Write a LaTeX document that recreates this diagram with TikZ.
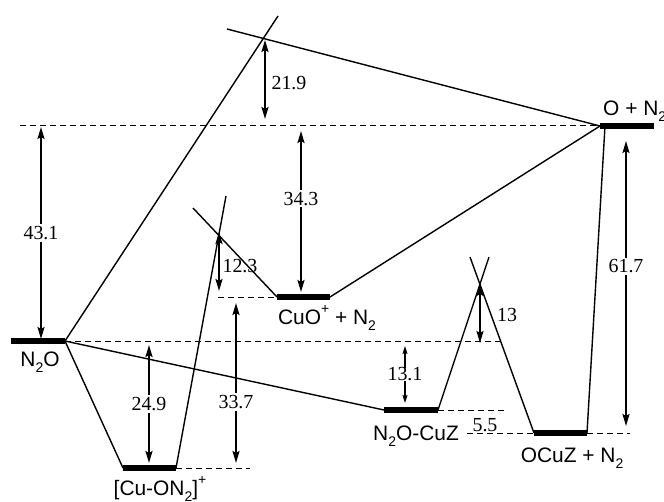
\documentclass[tikz,border=0pt]{standalone}
\usepackage{fontspec}
\setmainfont{Liberation Serif}
\newfontfamily\lblfont{Liberation Sans}
\usetikzlibrary{arrows.meta}
\newcommand{\lsub}[1]{\raisebox{-0.28em}{\fontsize{14}{14}\selectfont #1}}
\newcommand{\lsup}[1]{\raisebox{0.55em}{\fontsize{14}{14}\selectfont #1}}
\begin{document}
\begin{tikzpicture}[x=1bp,y=-1bp,
  level/.style={line width=5.5bp},
  path/.style={line width=1.4bp},
  guide/.style={line width=1bp,dash pattern=on 6bp off 4bp},
  dimarrow/.style={line width=1.9bp,{Stealth[length=12bp,width=7bp,inset=2bp]}-{Stealth[length=12bp,width=7bp,inset=2bp]}},
  smallarrow/.style={line width=1.4bp,{Stealth[length=8bp,width=5bp,inset=1.5bp]}-{Stealth[length=8bp,width=5bp,inset=1.5bp]}},
  num/.style={font=\fontsize{20}{22}\selectfont,inner sep=1bp},
  gapnum/.style={num,fill=white,inner sep=2bp},
  lbl/.style={font=\lblfont\fontsize{21}{23}\selectfont,inner sep=0pt}]
\useasboundingbox (0,0) rectangle (664,502);
% level coordinates
\coordinate (n2oL) at (11,341);   \coordinate (n2oR) at (65,341);
\coordinate (onL) at (600,126);   \coordinate (onR) at (654,126);
\coordinate (cuonL) at (123,468); \coordinate (cuonR) at (176,468);
\coordinate (cuoL) at (277,297);  \coordinate (cuoR) at (330,297);
\coordinate (czL) at (384,410);   \coordinate (czR) at (438,410);
\coordinate (ocL) at (534,433);   \coordinate (ocR) at (587,433);
% free ends of crossing lines
\coordinate (t1a) at (278,16);  \coordinate (t1b) at (227,29);
\coordinate (t2a) at (226,196); \coordinate (t2b) at (193,208);
\coordinate (t3a) at (489,257); \coordinate (t3b) at (470,257);
% dashed guides
\coordinate (g1) at (20,126);
\coordinate (g2) at (500,341);
\coordinate (g3) at (250,468);
\coordinate (g4) at (218,297);
\coordinate (g5) at (506,410);
\coordinate (g6) at (467,433);
\coordinate (g7) at (630,433);
\draw[guide] (g1) -- (onL);
\draw[guide] (n2oR) -- (g2);
\draw[guide] (cuonR) -- (g3);
\draw[guide] (g4) -- (cuoL);
\draw[guide] (czR) -- (g5);
\draw[guide] (g6) -- (ocL);
\draw[guide] (ocR) -- (g7);
% reaction paths
\draw[path] (n2oR) -- (t1a);
\draw[path] (t1b) -- (onL);
\draw[path] (n2oR) -- (cuonL);
\draw[path] (cuonR) -- (t2a);
\draw[path] (t2b) -- (cuoL);
\draw[path] (cuoR) -- (onL);
\draw[path] (n2oR) -- (czL);
\draw[path] (czR) -- (t3a);
\draw[path] (t3b) -- (ocL);
\draw[path] (ocR) -- (605,126);
% levels
\draw[level] (n2oL) -- (n2oR);
\draw[level] (onL) -- (onR);
\draw[level] (cuonL) -- (cuonR);
\draw[level] (cuoL) -- (cuoR);
\draw[level] (czL) -- (czR);
\draw[level] (ocL) -- (ocR);
% labels
\node[lbl] (ln2o) at (40,362) {N\lsub{2}O};
\node[lbl,anchor=base west] (lon) at (603,116) {O + N\lsub{2}};
\node[lbl] (lcuon) at (160,489) {[Cu-ON\lsub{2}]\lsup{+}};
\node[lbl] (lcuo) at (327,318) {CuO\lsup{+} + N\lsub{2}};
\node[lbl] (lcz) at (416,436) {N\lsub{2}O-CuZ};
\node[lbl] (loc) at (572,458) {OCuZ + N\lsub{2}};
% energy differences
\coordinate (a1t) at (265,40);  \coordinate (a1b) at (265,119);
\draw[dimarrow] (a1t) -- (a1b);
\node[num] (v1) at (289,83) {21.9};
\coordinate (a2t) at (41,127);  \coordinate (a2b) at (41,339);
\draw[dimarrow] (a2t) -- node[gapnum] (v2) {43.1} (a2b);
\coordinate (a3t) at (301,131); \coordinate (a3b) at (301,292);
\draw[dimarrow] (a3t) -- node[gapnum,pos=0.42] (v3) {34.3} (a3b);
\coordinate (a4t) at (219,232); \coordinate (a4b) at (219,291);
\draw[dimarrow] (a4t) -- (a4b);
\node[num] (v4) at (240,266) {12.3};
\coordinate (a5t) at (149,345); \coordinate (a5b) at (149,463);
\draw[dimarrow] (a5t) -- node[gapnum] (v5) {24.9} (a5b);
\coordinate (a6t) at (236,303); \coordinate (a6b) at (236,463);
\draw[dimarrow] (a6t) -- node[gapnum,pos=0.62] (v6) {33.7} (a6b);
\coordinate (a7t) at (480,284); \coordinate (a7b) at (480,343);
\draw[dimarrow] (a7t) -- (a7b);
\node[num] (v7) at (507,315) {13};
\coordinate (a8t) at (405,346); \coordinate (a8b) at (405,403);
\draw[smallarrow] (a8t) -- node[gapnum,inner sep=0pt] (v8) {13.1} (a8b);
\coordinate (a9t) at (626,141); \coordinate (a9b) at (626,426);
\draw[dimarrow] (a9t) -- node[gapnum,pos=0.44] (v9) {61.7} (a9b);
\node[num] (v10) at (485,425) {5.5};
\end{tikzpicture}
\end{document}
